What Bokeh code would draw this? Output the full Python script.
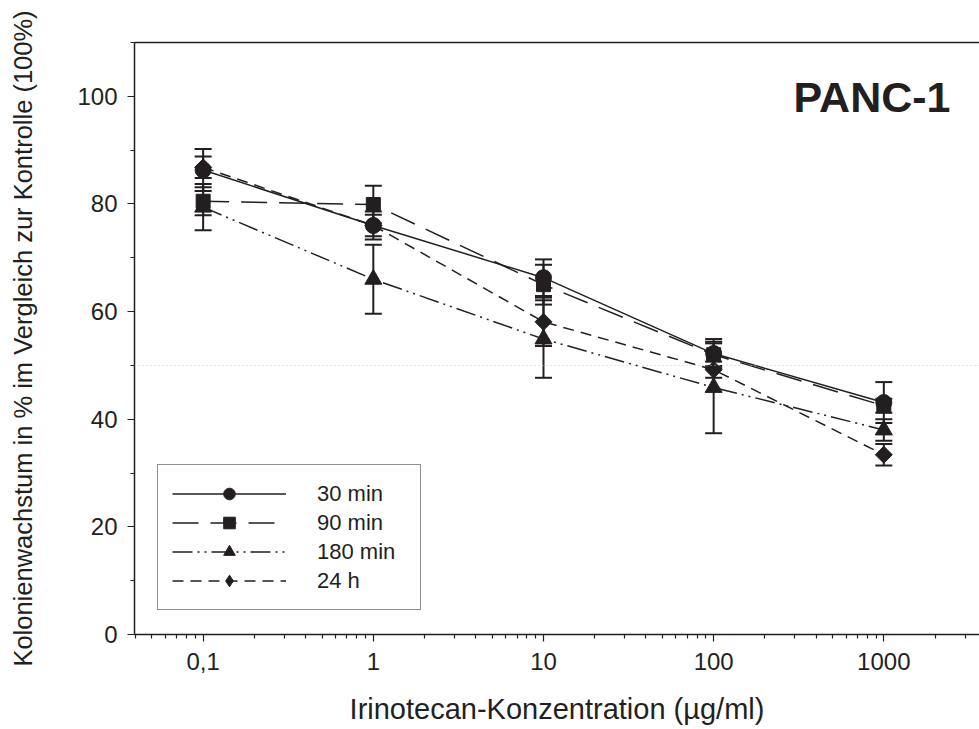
from bokeh.plotting import figure
from bokeh.models import (ColumnDataSource, FixedTicker, Whisker, TeeHead, Span,
                          Legend, LegendItem, Label, LogAxis)
from bokeh.embed import file_html
from bokeh.resources import INLINE
import math

# ---- data ----
conc = [0.1, 1, 10, 100, 1000]
series_labels = ["30 min", "90 min", "180 min", "24 h"]
min30 = [86.3, 76.0, 66.3, 52.2, 43.1]
err30 = [3.9, 2.6, 3.4, 2.7, 3.8]
min90 = [80.5, 79.9, 65.0, 52.0, 42.5]
err90 = [2.6, 3.5, 3.7, 2.1, 1.3]
min180 = [79.4, 66.0, 54.9, 45.9, 38.0]
err180 = [4.3, 6.4, 7.2, 8.5, 2.0]
h24 = [86.8, 76.0, 58.1, 49.2, 33.4]
err24 = [2.0, 2.0, 4.5, 1.5, 2.0]
x_tick_vals = [0.1, 1, 10, 100, 1000]
x_tick_labels = ["0,1", "1", "10", "100", "1000"]
y_tick_vals = [0, 20, 40, 60, 80, 100]
y_minor_vals = [10, 30, 50, 70, 90, 110]
ref_level = 50
title_text = "PANC-1"
x_title = "Irinotecan-Konzentration (µg/ml)"
y_title = "Kolonienwachstum in % im Vergleich zur Kontrolle (100%)"

INK = "#231f20"
FONT = "Liberation Sans"

p = figure(width=979, height=729, x_axis_type="log",
           x_range=(0.0395, 3650), y_range=(0, 110),
           output_backend="svg", toolbar_location=None,
           min_border_left=134, min_border_right=0,
           min_border_top=42, min_border_bottom=95,
           background_fill_color="white", border_fill_color="white")
p.outline_line_color = None
p.grid.visible = False

# axes
p.xaxis.ticker = FixedTicker(ticks=x_tick_vals,
                             minor_ticks=[m * 10.0 ** e for e in range(-2, 4) for m in range(2, 10)])
p.xaxis.major_label_overrides = {v: l for v, l in zip(x_tick_vals, x_tick_labels)}
p.yaxis.ticker = FixedTicker(ticks=y_tick_vals, minor_ticks=y_minor_vals)
for ax in (p.xaxis[0], p.yaxis[0]):
    ax.axis_line_color = INK
    ax.axis_line_width = 1.5
    ax.major_tick_line_color = INK
    ax.minor_tick_line_color = INK
    ax.major_tick_line_width = 1.2
    ax.minor_tick_line_width = 1.2
    ax.major_tick_in = 0
    ax.major_tick_out = 7
    ax.minor_tick_in = 0
    ax.minor_tick_out = 4
    ax.major_label_text_font = FONT
    ax.major_label_text_font_size = "24px"
    ax.major_label_text_color = INK
    ax.axis_label_text_font = FONT
    ax.axis_label_text_font_style = "normal"
    ax.axis_label_text_color = INK
p.xaxis.axis_label = x_title
p.yaxis.axis_label = y_title
p.xaxis.axis_label_text_font_size = "29px"
p.yaxis.axis_label_text_font_size = "25.5px"
p.xaxis.major_label_standoff = 11
p.xaxis.axis_label_standoff = 20
p.yaxis.major_label_standoff = 10
p.yaxis.axis_label_standoff = 37

top_axis = LogAxis(ticker=FixedTicker(ticks=[]), axis_line_color=INK, axis_line_width=1.5,
                   major_tick_line_color=None, minor_tick_line_color=None,
                   major_label_text_font_size="0px")
p.add_layout(top_axis, "above")

p.add_layout(Span(location=ref_level, dimension="width", line_color="#c8c8c8",
                  line_width=1, line_dash="1 3"))

styles = [
    (min30, err30, "circle", "circle", 16, 0.0, "solid"),
    (min90, err90, "square", "square", 14, 0.0, "26 12"),
    (min180, err180, "triangle", "triangle", 17, 0.0, "20 5 2 5 2 5"),
    (h24, err24, "square", "diamond", 12, math.pi / 4, "11 7"),
]

items = []
for lab, (vals, errs, mk, legend_mk, sz, ang, dash) in zip(series_labels, styles):
    src = ColumnDataSource(dict(x=conc, y=vals,
                                upper=[v + e for v, e in zip(vals, errs)],
                                lower=[v - e for v, e in zip(vals, errs)]))
    w = Whisker(base="x", upper="upper", lower="lower", source=src, dimension="height",
                line_color=INK, line_width=2,
                upper_head=TeeHead(size=17, line_color=INK, line_width=2),
                lower_head=TeeHead(size=17, line_color=INK, line_width=2))
    p.add_layout(w)
    lr = p.line("x", "y", source=src, line_color=INK, line_width=1.5, line_dash=dash)
    sr = p.scatter("x", "y", source=src, marker=mk, size=sz, angle=ang,
                   fill_color=INK, line_color=INK)
    if legend_mk != mk:
        # marker shown in the legend only (legend glyphs are drawn unrotated)
        sr = p.scatter("x", "y", source=src, marker=legend_mk, size=sz,
                       fill_color=INK, line_color=INK, visible=False)
    items.append(LegendItem(label=lab, renderers=[lr, sr]))

legend = Legend(items=items, location=(23, 24), glyph_width=114, glyph_height=29,
                label_height=29, label_width=89, label_standoff=31, spacing=0,
                padding=14, margin=0, border_line_color=INK, border_line_width=1,
                background_fill_color="white", background_fill_alpha=1.0,
                label_text_font=FONT, label_text_font_size="22px", label_text_color=INK)
p.add_layout(legend)

p.add_layout(Label(x=816, y=538, x_units="screen", y_units="screen", text=title_text,
                   text_align="right", text_baseline="alphabetic",
                   text_font=FONT, text_font_size="43px", text_font_style="bold",
                   text_color=INK))

open("out.html", "w").write(file_html(p, INLINE))
